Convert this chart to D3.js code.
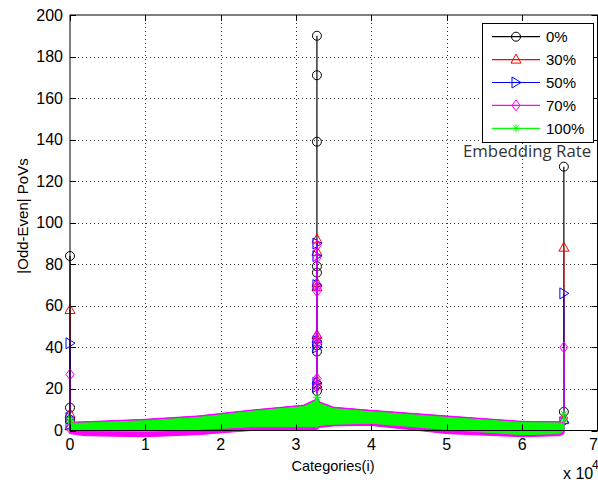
<!DOCTYPE html>
<html>
<head>
<meta charset="utf-8">
<script src="https://cdn.jsdelivr.net/npm/d3@7"></script>
<style>
  body { margin: 0; background: #fff; }
  svg { display: block; }
  text { font-family: Arial, "Liberation Sans", sans-serif; fill: #000; }
</style>
</head>
<body>
<svg id="chart" width="598" height="483"></svg>
<script>
// Series and tick labels
const seriesNames = ["0%", "30%", "50%", "70%", "100%"];
const yTicks = [0, 20, 40, 60, 80, 100, 120, 140, 160, 180, 200];
const xTicks = [0, 10000, 20000, 30000, 40000, 50000, 60000, 70000];

// Categories where the large values sit
const spikeI = [0, 32768, 65536];

// Values at each spike, one list per spike
const spikes0   = [[84, 11, 5], [190, 171, 139, 79, 76, 41, 38, 19, 12], [127, 9]];
const spikes30  = [[58, 8, 2], [92, 86, 71, 69, 46, 44, 24, 22, 12], [88, 5]];
const spikes50  = [[42, 6, 3], [90, 84, 70, 43, 40, 23, 21, 11], [66, 4]];
const spikes70  = [[27, 5, 1], [89, 83, 67, 69, 45, 42, 25, 21, 11], [40, 6]];
const spikes100 = [[6, 4], [16, 13, 11], [8, 5]];

// The dense band of small values (upper / lower edge at some categories)
const bandI        = [0, 2000, 10000, 17000, 24000, 31000, 32500, 32768, 33100, 35000, 40000, 50000, 60000, 65000, 65536];
const band50Upper  = [3.8, 4.0, 5.2, 6.8, 9.6, 12.0, 14.5, 16.5, 13.5, 11.0, 9.5, 6.8, 4.2, 4.0, 3.4];
const band50Lower  = [-1, -1.5, -1.5, -1, 0.5, 1.0, 1.0, 1.0, 2.0, 2.5, 2.5, -1, -2.5, -2, -1];
const band70Upper  = [4.0, 4.2, 5.4, 7.0, 9.8, 12.2, 14.8, 16.8, 13.8, 11.2, 9.7, 7.0, 4.4, 4.2, 3.6];
const band70Lower  = [-1.5, -2.5, -3, -2, 0, 0.5, 0.5, 0.5, 1.5, 2.2, 2.5, -1.5, -3, -2.5, -1.5];
const band100Upper = [3.4, 3.6, 4.7, 6.3, 9.2, 11.5, 14, 16, 13, 10.5, 9, 6.3, 3.8, 3.6, 3];
const band100Lower = [0, 0, -0.5, 0.5, 1.8, 1.8, 1.8, 1.5, 2.5, 3, 3.5, 0.5, -2, -1.5, 0];

const allSpikes = [spikes0, spikes30, spikes50, spikes70, spikes100];
const allBands = [null, null, [band50Upper, band50Lower], [band70Upper, band70Lower], [band100Upper, band100Lower]];

// styles
const colors = ["#000000", "#ff0000", "#0000ff", "#ff00ff", "#00ff00"];
const markers = ["circle", "triangle", "rtriangle", "diamond", "star"];

const svg = d3.select("#chart");
const margin = {top: 15, right: 0.5, bottom: 52.5, left: 70};
const width = +svg.attr("width"), height = +svg.attr("height");
const x0 = margin.left, x1 = width - margin.right, y0 = height - margin.bottom, y1 = margin.top;

const x = d3.scaleLinear().domain([0, 70000]).range([x0, x1]);
const y = d3.scaleLinear().domain([0, 200]).range([y0, y1]);

// Grid (dotted)
const grid = svg.append("g").attr("stroke", "#333").attr("stroke-width", 1).attr("stroke-dasharray", "1,3");
grid.selectAll(".gx").data(xTicks.slice(1, -1)).join("line")
    .attr("x1", d => Math.round(x(d)) + 0.5).attr("x2", d => Math.round(x(d)) + 0.5)
    .attr("y1", y1).attr("y2", y0);
grid.selectAll(".gy").data(yTicks.slice(1, -1)).join("line")
    .attr("x1", x0).attr("x2", x1)
    .attr("y1", d => Math.round(y(d)) + 0.5).attr("y2", d => Math.round(y(d)) + 0.5);

function drawMarker(g, type, cx, cy, color) {
    let shape;
    if (type === "circle") {
        shape = g.append("circle").attr("cx", cx).attr("cy", cy).attr("r", 4.5);
    } else if (type === "star") {
        const s = 4;
        const p = `M${cx - s},${cy}H${cx + s}M${cx},${cy - s}V${cy + s}` +
                  `M${cx - s * 0.7},${cy - s * 0.7}L${cx + s * 0.7},${cy + s * 0.7}` +
                  `M${cx - s * 0.7},${cy + s * 0.7}L${cx + s * 0.7},${cy - s * 0.7}`;
        shape = g.append("path").attr("d", p);
    } else {
        let pts;
        if (type === "triangle") pts = [[0, -5.5], [5, 3.5], [-5, 3.5]];
        if (type === "rtriangle") pts = [[5, 0], [-4, -5.5], [-4, 5.5]];
        if (type === "diamond") pts = [[0, -5.5], [4, 0], [0, 5.5], [-4, 0]];
        shape = g.append("polygon").attr("points", pts.map(p => [cx + p[0], cy + p[1]].join(",")).join(" "));
    }
    shape.attr("fill", "none").attr("stroke", color).attr("stroke-width", 1);
}

const area = d3.area().x(d => x(d[0])).y0(d => y(d[2])).y1(d => y(d[1]));

seriesNames.forEach((name, s) => {
    const g = svg.append("g");
    const band = allBands[s];
    if (band) {
        const pts = bandI.map((v, i) => [v, band[0][i], band[1][i]]);
        g.append("path").datum(pts)
            .attr("d", area)
            .attr("fill", colors[s])
            .attr("stroke", colors[s])
            .attr("stroke-width", 1);
    }
    allSpikes[s].forEach((vals, k) => {
        const cx = x(spikeI[k]);
        g.append("line")
            .attr("x1", cx).attr("x2", cx)
            .attr("y1", y(d3.min(vals))).attr("y2", y(d3.max(vals)))
            .attr("stroke", colors[s]).attr("stroke-width", 1.2);
        vals.forEach(v => drawMarker(g, markers[s], cx, y(v), colors[s]));
    });
});

// Axes box with inward ticks
const axisG = svg.append("g").attr("stroke", "#000").attr("stroke-width", 1);
axisG.append("rect").attr("x", x0).attr("y", y1).attr("width", x1 - x0).attr("height", y0 - y1)
    .attr("fill", "none");
yTicks.forEach(t => {
    const yy = Math.round(y(t)) + 0.5;
    axisG.append("line").attr("x1", x0).attr("x2", x0 + 6).attr("y1", yy).attr("y2", yy);
    axisG.append("line").attr("x1", x1).attr("x2", x1 - 6).attr("y1", yy).attr("y2", yy);
});
xTicks.forEach(t => {
    const xx = Math.round(x(t)) + 0.5;
    axisG.append("line").attr("x1", xx).attr("x2", xx).attr("y1", y0).attr("y2", y0 - 6);
    axisG.append("line").attr("x1", xx).attr("x2", xx).attr("y1", y1).attr("y2", y1 + 6);
});

// Tick labels
svg.append("g").selectAll("text").data(yTicks).join("text")
    .attr("x", x0 - 7).attr("y", d => y(d) + 5.5)
    .attr("text-anchor", "end").attr("font-size", "16px")
    .text(d => d);
svg.append("g").selectAll("text").data(xTicks).join("text")
    .attr("x", (d, i) => i === xTicks.length - 1 ? width : x(d))
    .attr("y", y0 + 19.5)
    .attr("text-anchor", (d, i) => i === xTicks.length - 1 ? "end" : "middle")
    .attr("font-size", "16px")
    .text(d => d / 10000);

// Exponent
const expo = svg.append("text").attr("x", 563).attr("y", 479).attr("font-size", "16px");
expo.append("tspan").text("x 10");
svg.append("text").attr("x", 592).attr("y", 469).attr("font-size", "12px").text("4");

// Axis labels
svg.append("text").attr("x", 333).attr("y", 471).attr("text-anchor", "middle")
    .attr("font-size", "14.5px").text("Categories(i)");
svg.append("text").attr("transform", "translate(28,216) rotate(-90)")
    .attr("text-anchor", "middle").attr("font-size", "15px").text("|Odd-Even| PoVs");

// Legend
const lg = svg.append("g");
lg.append("rect").attr("x", 482.5).attr("y", 23.5).attr("width", 111).attr("height", 119)
    .attr("fill", "#fff").attr("stroke", "#000").attr("stroke-width", 1);
seriesNames.forEach((name, s) => {
    const ly = 36.7 + s * 22.9;
    lg.append("line").attr("x1", 492).attr("x2", 540).attr("y1", ly).attr("y2", ly)
        .attr("stroke", colors[s]).attr("stroke-width", 1.2);
    drawMarker(lg, markers[s], 516, ly, colors[s]);
    lg.append("text").attr("x", 546).attr("y", ly + 5.5).attr("font-size", "15px").text(name);
});
svg.append("text").attr("x", 463).attr("y", 157)
    .style("font-family", "'Open Sans', sans-serif").style("fill", "#333")
    .attr("font-size", "16.8px").text("Embedding Rate");
</script>
</body>
</html>
